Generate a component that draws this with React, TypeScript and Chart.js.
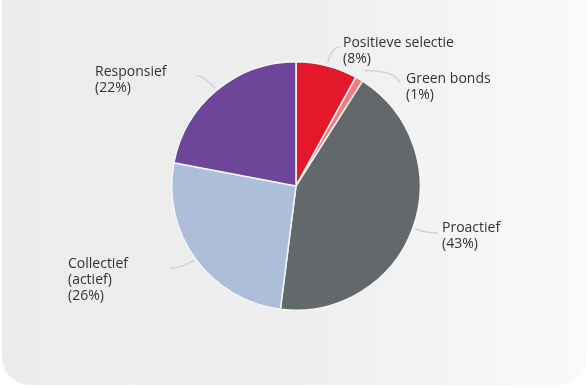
import React, { useEffect, useRef } from "react";
import { Chart, registerables } from "chart.js";

Chart.register(...registerables);

const categories = ["Positieve selectie", "Green bonds", "Proactief", "Collectief (actief)", "Responsief"];
const labelLines = [
  ["Positieve selectie", "(8%)"],
  ["Green bonds", "(1%)"],
  ["Proactief", "(43%)"],
  ["Collectief", "(actief)", "(26%)"],
  ["Responsief", "(22%)"],
];
const values = [8, 1, 43, 26, 22];
const colors = ["#e3192b", "#f27a80", "#63686b", "#adbfd8", "#6e4699"];

// annotation placement relative to pie centre
const textOffsets = [
  [47, -143],
  [110, -107],
  [146, 42],
  [-228, 78],
  [-201, -114],
];
const lineEnds = [
  [44, -139],
  [104, -103],
  [142, 47],
  [-126, 82],
  [-99, -110],
];
const startGaps = [3, 10, 2, 2, 2];
const bendFirst = [false, true, false, false, false];

const labelPlugin = {
  id: "outsideLabels",
  afterDatasetsDraw(chart: any) {
    const ctx = chart.ctx;
    const meta = chart.getDatasetMeta(0);
    ctx.save();
    meta.data.forEach((arc: any, i: number) => {
      const p = arc.getProps(["x", "y", "startAngle", "endAngle", "outerRadius"], true);
      const mid = (p.startAngle + p.endAngle) / 2;
      const dx = Math.cos(mid);
      const dy = Math.sin(mid);
      const r = p.outerRadius + startGaps[i];
      const x0 = p.x + dx * r;
      const y0 = p.y + dy * r;
      const x2 = p.x + lineEnds[i][0];
      const y2 = p.y + lineEnds[i][1];
      let cx: number, cy: number;
      if (bendFirst[i]) {
        cx = x2 - 4;
        cy = y0;
      } else {
        const t = (y2 - y0) / dy;
        cx = x0 + dx * t;
        cy = y2;
      }
      ctx.beginPath();
      ctx.strokeStyle = "#d3d3d3";
      ctx.lineWidth = 1.5;
      ctx.moveTo(x0, y0);
      ctx.quadraticCurveTo(cx, cy, x2, y2);
      ctx.stroke();

      ctx.fillStyle = "#333333";
      ctx.font = '14px "Open Sans"';
      ctx.textAlign = "left";
      ctx.textBaseline = "middle";
      const tx = p.x + textOffsets[i][0];
      const ty = p.y + textOffsets[i][1];
      labelLines[i].forEach((ln, k) => {
        ctx.fillText(ln, tx, ty + k * 16);
      });
    });
    ctx.restore();
  },
};

export default function App() {
  const ref = useRef<HTMLCanvasElement | null>(null);
  useEffect(() => {
    if (!ref.current) return;
    const chart = new Chart(ref.current, {
      type: "pie",
      data: {
        labels: categories,
        datasets: [
          {
            data: values,
            backgroundColor: colors,
            borderColor: "#f3f6f9",
            borderWidth: 1.5,
            hoverOffset: 0,
          },
        ],
      },
      options: {
        responsive: false,
        animation: false,
        layout: { padding: { left: 171, right: 167, top: 61, bottom: 77 } },
        plugins: { legend: { display: false }, tooltip: { enabled: false } },
      },
      plugins: [labelPlugin],
    });
    return () => chart.destroy();
  }, []);
  return (
    <div style={{ position: "fixed", left: 0, top: 0, width: 588, height: 388, background: "#ffffff", overflow: "hidden" }}>
      <div
        style={{
          position: "absolute",
          left: 2,
          top: -40,
          width: 585,
          height: 425,
          borderRadius: 28,
          background: "linear-gradient(to right, #ececec 0%, #eeeeee 50%, #fafafa 100%)",
        }}
      />
      <canvas ref={ref} width={588} height={388} style={{ position: "absolute", left: 0, top: 0 }} />
    </div>
  );
}
